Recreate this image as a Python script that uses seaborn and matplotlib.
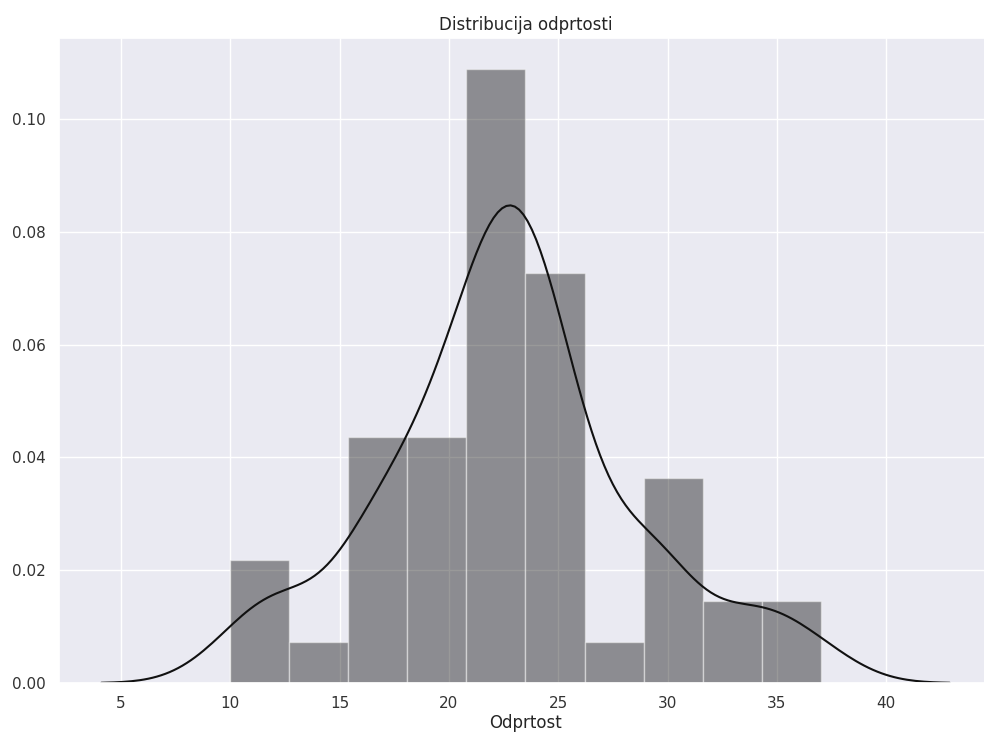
import numpy as np
import matplotlib
matplotlib.use("Agg")
import matplotlib.pyplot as plt
import seaborn as sns

odprtost = [10, 12, 12,
            13,
            16, 16, 16, 17, 17, 18,
            19, 19, 19, 20, 20, 20,
            21, 21, 21, 22, 22, 22, 22, 22, 23, 23, 23, 23, 23, 23, 23,
            24, 24, 24, 24, 25, 25, 25, 25, 26, 26,
            27,
            29, 29, 29, 30, 30,
            33, 34,
            35, 37]
n_bins = 10
title = "Distribucija odprtosti"
xlabel = "Odprtost"

sns.set_theme(style="darkgrid", context="notebook")
plt.rcParams["font.family"] = ["DejaVu Sans"]

fig = plt.figure(figsize=(9.84, 7.33), dpi=100)
ax = fig.add_axes([59 / 984, 50 / 733, (992 - 59) / 984, (683 - 38) / 733])

data = np.asarray(odprtost, dtype=float)

sns.histplot(data, bins=n_bins, stat="density", color="black", alpha=0.4,
             edgecolor=(1, 1, 1, 0.45), linewidth=1.0, ax=ax)

# Scott bandwidth with robust spread (as in the statsmodels-based distplot)
q75, q25 = np.percentile(data, [75, 25])
spread = min(data.std(ddof=1), (q75 - q25) / 1.349)
bw = 1.059 * spread * len(data) ** (-0.2)
factor = bw / data.std(ddof=1)
sns.kdeplot(data, bw_method=factor, cut=3, gridsize=200, color="#111111",
            linewidth=1.5, ax=ax)

ax.set_title(title, fontsize=12)
ax.set_xlabel(xlabel, fontsize=12, labelpad=2)
ax.set_ylabel("")
ax.tick_params(labelsize=11, colors="#333333")

fig.savefig("out.png", dpi=100)
